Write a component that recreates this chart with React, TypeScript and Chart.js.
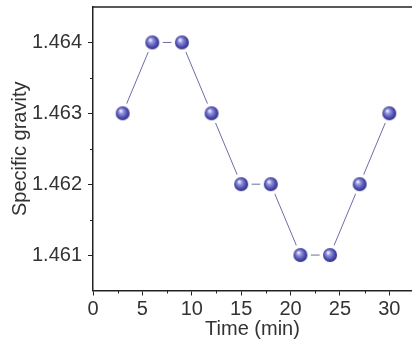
import React, { useEffect, useRef } from "react";
import { Chart, registerables } from "chart.js";

Chart.register(...registerables);

const times = [3, 6, 9, 12, 15, 18, 21, 24, 27, 30];
const gravity = [1.463, 1.464, 1.464, 1.463, 1.462, 1.462, 1.461, 1.461, 1.462, 1.463];
const xTicks = [0, 5, 10, 15, 20, 25, 30];
const xMinorTicks = [2.5, 7.5, 12.5, 17.5, 22.5, 27.5];
const yTicks = [1.461, 1.462, 1.463, 1.464];
const yMinorTicks = [1.4615, 1.4625, 1.4635];
const xRange = [0, 32.3];
const yRange = [1.4605, 1.4645];

function makeSphere(): HTMLCanvasElement {
  const c = document.createElement("canvas");
  c.width = 16;
  c.height = 16;
  const ctx = c.getContext("2d")!;
  const g = ctx.createRadialGradient(6, 5.5, 0.5, 8, 8, 8);
  g.addColorStop(0, "#eeeeff");
  g.addColorStop(0.25, "#9494e0");
  g.addColorStop(0.65, "#4c4cac");
  g.addColorStop(1, "#2a2a76");
  ctx.fillStyle = g;
  ctx.beginPath();
  ctx.arc(8, 8, 7, 0, Math.PI * 2);
  ctx.fill();
  return c;
}

const FONT = "'Liberation Sans', Arial, sans-serif";
const AXIS = "#222222";

export default function App() {
  const ref = useRef<HTMLCanvasElement>(null);
  useEffect(() => {
    document.body.style.margin = "0";
    const sphere = makeSphere();
    const pts = times.map((t, i) => ({ x: t, y: gravity[i] }));
    const frame = {
      id: "frame",
      afterDraw(chart: any) {
        const { ctx, chartArea, scales } = chart;
        ctx.save();
        ctx.strokeStyle = AXIS;
        ctx.lineWidth = 1.5;
        ctx.beginPath();
        ctx.moveTo(chartArea.left - 0.75, chartArea.top);
        ctx.lineTo(chartArea.right, chartArea.top);
        ctx.stroke();
        ctx.lineWidth = 1;
        ctx.beginPath();
        xMinorTicks.forEach((v) => {
          const px = Math.round(scales.x.getPixelForValue(v)) + 0.5;
          ctx.moveTo(px, chartArea.bottom);
          ctx.lineTo(px, chartArea.bottom + 3);
        });
        yMinorTicks.forEach((v) => {
          const py = Math.round(scales.y.getPixelForValue(v)) + 0.5;
          ctx.moveTo(chartArea.left, py);
          ctx.lineTo(chartArea.left - 3, py);
        });
        ctx.stroke();
        ctx.restore();
      },
    };
    const chart = new Chart(ref.current!, {
      type: "scatter",
      data: {
        datasets: [
          {
            data: pts,
            showLine: false,
            pointStyle: sphere as any,
            pointRadius: 7,
          },
          {
            data: pts,
            showLine: false,
            pointStyle: "circle",
            pointRadius: 10.5,
            pointBackgroundColor: "#ffffff",
            pointBorderWidth: 0,
            pointBorderColor: "#ffffff",
          },
          {
            data: pts,
            showLine: true,
            borderColor: "#6c6ca8",
            borderWidth: 1,
            pointRadius: 0,
          },
        ],
      },
      options: {
        responsive: false,
        animation: false,
        devicePixelRatio: 1,
        layout: { autoPadding: false, padding: { top: 7, right: 0, left: 0, bottom: 0 } },
        plugins: { legend: { display: false }, tooltip: { enabled: false } },
        scales: {
          x: {
            type: "linear",
            min: xRange[0],
            max: xRange[1],
            afterBuildTicks: (s: any) => {
              s.ticks = xTicks.map((v) => ({ value: v }));
            },
            afterFit: (s: any) => {
              s.height = 50.5;
              s.paddingLeft = 0;
              s.paddingRight = 0;
            },
            grid: { drawOnChartArea: false, tickLength: 5, color: AXIS, tickColor: AXIS, tickWidth: 1 },
            border: { color: AXIS, width: 1.5 },
            ticks: { color: "#333", padding: 2, font: { family: FONT, size: 20 } },
            title: {
              display: true,
              text: "Time (min)",
              color: "#333",
              padding: { top: 0, bottom: 0 },
              font: { family: FONT, size: 20 },
            },
          },
          y: {
            type: "linear",
            min: yRange[0],
            max: yRange[1],
            afterBuildTicks: (s: any) => {
              s.ticks = yTicks.map((v) => ({ value: v }));
            },
            afterFit: (s: any) => {
              s.width = 93;
              s.paddingTop = 0;
              s.paddingBottom = 0;
            },
            grid: { drawOnChartArea: false, tickLength: 5, color: AXIS, tickColor: AXIS, tickWidth: 1 },
            border: { color: AXIS, width: 1.5 },
            ticks: {
              color: "#333",
              padding: 6,
              font: { family: FONT, size: 20 },
              callback: (v: any) => Number(v).toFixed(3),
            },
            title: {
              display: true,
              text: "Specific gravity",
              color: "#333",
              padding: { top: 8, bottom: 0 },
              font: { family: FONT, size: 20 },
            },
          },
        },
      },
      plugins: [frame],
    });
    return () => chart.destroy();
  }, []);
  return (
    <div style={{ width: 412, height: 341 }}>
      <canvas ref={ref} width={412} height={341} />
    </div>
  );
}
